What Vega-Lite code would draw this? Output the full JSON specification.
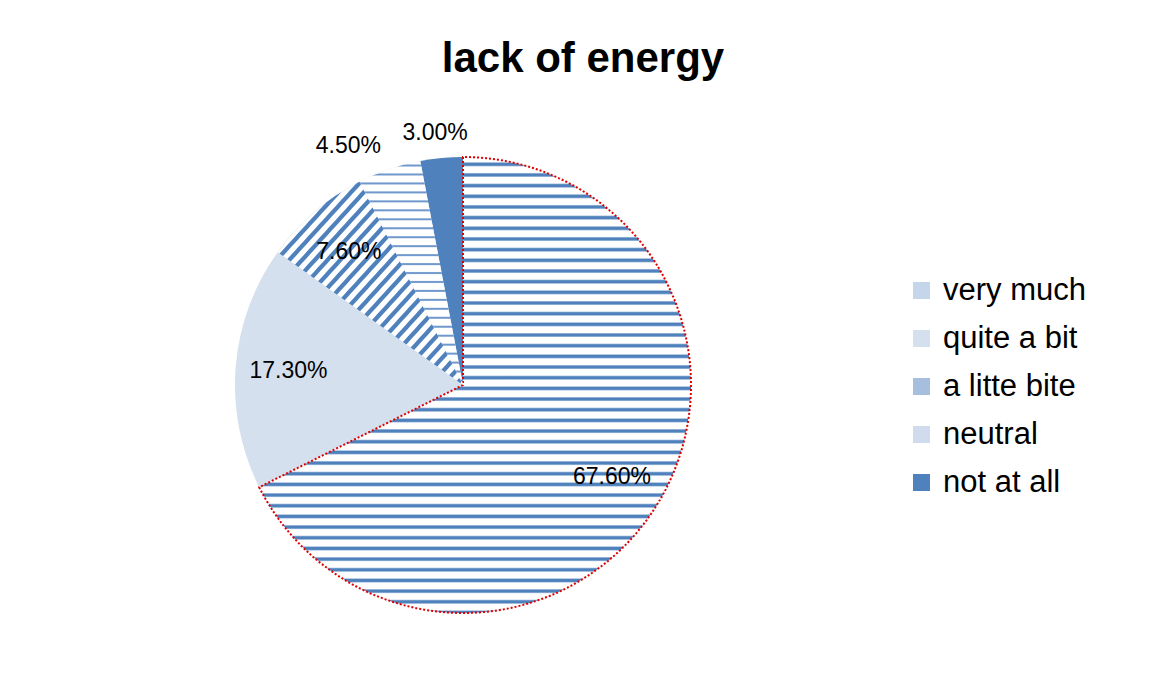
{
  "$schema": "https://vega.github.io/schema/vega-lite/v6.json",
  "width": 916,
  "height": 530,
  "autosize": "none",
  "padding": {"left": 5, "top": 120, "right": 228, "bottom": 24},
  "background": "white",
  "config": {"view": {"stroke": null}, "font": "Liberation Sans"},
  "title": {"text": "lack of energy", "fontSize": 42, "fontWeight": "bold", "font": "Liberation Sans", "color": "#000000", "anchor": "middle", "dx": 120, "offset": 6, "baseline": "alphabetic"},
  "data": {"values": [
    {"category": "very much", "value": 0.676, "order": 1},
    {"category": "quite a bit", "value": 0.173, "order": 2},
    {"category": "a litte bite", "value": 0.076, "order": 3},
    {"category": "neutral", "value": 0.045, "order": 4},
    {"category": "not at all", "value": 0.030, "order": 5}
  ]},
  "encoding": {
    "theta": {"field": "value", "type": "quantitative", "stack": true},
    "order": {"field": "order", "type": "quantitative"}
  },
  "layer": [
    {
      "mark": {"type": "arc", "outerRadius": 228},
      "encoding": {
        "color": {
          "field": "category", "type": "nominal",
          "scale": {"domain": ["very much", "quite a bit", "a litte bite", "neutral", "not at all"], "range": ["#c6d6ea", "#d5e0ef", "#a7bfdf", "#d0dcee", "#4f81bd"]},
          "legend": {"title": null, "orient": "none", "legendX": 901, "legendY": 155, "symbolType": "square", "symbolSize": 289, "labelFontSize": 31, "labelFont": "Liberation Sans", "labelColor": "#000000", "labelOffset": 6, "rowPadding": 16, "symbolStrokeWidth": 0, "labelLimit": 300}
        }
      }
    },
    {
      "mark": {"type": "arc", "outerRadius": 228, "strokeDash": [2, 2], "strokeWidth": 2},
      "encoding": {
        "fill": {
          "condition": [
            {"test": "datum.category === 'very much'", "value": {"gradient": "linear", "x1": 0, "y1": 0, "x2": 0, "y2": 1, "stops": [
              {"offset": 0, "color": "#ffffff"},
              {"offset": 0.0105, "color": "#ffffff"}, {"offset": 0.0138, "color": "#4f81bd"}, {"offset": 0.0182, "color": "#4f81bd"}, {"offset": 0.0215, "color": "#ffffff"},
              {"offset": 0.0339, "color": "#ffffff"}, {"offset": 0.0372, "color": "#4f81bd"}, {"offset": 0.0416, "color": "#4f81bd"}, {"offset": 0.0449, "color": "#ffffff"},
              {"offset": 0.0573, "color": "#ffffff"}, {"offset": 0.0606, "color": "#4f81bd"}, {"offset": 0.0650, "color": "#4f81bd"}, {"offset": 0.0683, "color": "#ffffff"},
              {"offset": 0.0807, "color": "#ffffff"}, {"offset": 0.0840, "color": "#4f81bd"}, {"offset": 0.0884, "color": "#4f81bd"}, {"offset": 0.0917, "color": "#ffffff"},
              {"offset": 0.1041, "color": "#ffffff"}, {"offset": 0.1074, "color": "#4f81bd"}, {"offset": 0.1118, "color": "#4f81bd"}, {"offset": 0.1151, "color": "#ffffff"},
              {"offset": 0.1275, "color": "#ffffff"}, {"offset": 0.1308, "color": "#4f81bd"}, {"offset": 0.1352, "color": "#4f81bd"}, {"offset": 0.1385, "color": "#ffffff"},
              {"offset": 0.1509, "color": "#ffffff"}, {"offset": 0.1542, "color": "#4f81bd"}, {"offset": 0.1586, "color": "#4f81bd"}, {"offset": 0.1619, "color": "#ffffff"},
              {"offset": 0.1743, "color": "#ffffff"}, {"offset": 0.1776, "color": "#4f81bd"}, {"offset": 0.1820, "color": "#4f81bd"}, {"offset": 0.1853, "color": "#ffffff"},
              {"offset": 0.1977, "color": "#ffffff"}, {"offset": 0.2010, "color": "#4f81bd"}, {"offset": 0.2054, "color": "#4f81bd"}, {"offset": 0.2087, "color": "#ffffff"},
              {"offset": 0.2211, "color": "#ffffff"}, {"offset": 0.2244, "color": "#4f81bd"}, {"offset": 0.2288, "color": "#4f81bd"}, {"offset": 0.2321, "color": "#ffffff"},
              {"offset": 0.2445, "color": "#ffffff"}, {"offset": 0.2478, "color": "#4f81bd"}, {"offset": 0.2522, "color": "#4f81bd"}, {"offset": 0.2555, "color": "#ffffff"},
              {"offset": 0.2679, "color": "#ffffff"}, {"offset": 0.2712, "color": "#4f81bd"}, {"offset": 0.2756, "color": "#4f81bd"}, {"offset": 0.2789, "color": "#ffffff"},
              {"offset": 0.2913, "color": "#ffffff"}, {"offset": 0.2946, "color": "#4f81bd"}, {"offset": 0.2990, "color": "#4f81bd"}, {"offset": 0.3023, "color": "#ffffff"},
              {"offset": 0.3147, "color": "#ffffff"}, {"offset": 0.3180, "color": "#4f81bd"}, {"offset": 0.3224, "color": "#4f81bd"}, {"offset": 0.3257, "color": "#ffffff"},
              {"offset": 0.3381, "color": "#ffffff"}, {"offset": 0.3414, "color": "#4f81bd"}, {"offset": 0.3458, "color": "#4f81bd"}, {"offset": 0.3491, "color": "#ffffff"},
              {"offset": 0.3615, "color": "#ffffff"}, {"offset": 0.3648, "color": "#4f81bd"}, {"offset": 0.3692, "color": "#4f81bd"}, {"offset": 0.3725, "color": "#ffffff"},
              {"offset": 0.3849, "color": "#ffffff"}, {"offset": 0.3882, "color": "#4f81bd"}, {"offset": 0.3926, "color": "#4f81bd"}, {"offset": 0.3959, "color": "#ffffff"},
              {"offset": 0.4083, "color": "#ffffff"}, {"offset": 0.4116, "color": "#4f81bd"}, {"offset": 0.4160, "color": "#4f81bd"}, {"offset": 0.4193, "color": "#ffffff"},
              {"offset": 0.4317, "color": "#ffffff"}, {"offset": 0.4350, "color": "#4f81bd"}, {"offset": 0.4394, "color": "#4f81bd"}, {"offset": 0.4427, "color": "#ffffff"},
              {"offset": 0.4551, "color": "#ffffff"}, {"offset": 0.4584, "color": "#4f81bd"}, {"offset": 0.4628, "color": "#4f81bd"}, {"offset": 0.4661, "color": "#ffffff"},
              {"offset": 0.4785, "color": "#ffffff"}, {"offset": 0.4818, "color": "#4f81bd"}, {"offset": 0.4862, "color": "#4f81bd"}, {"offset": 0.4895, "color": "#ffffff"},
              {"offset": 0.5019, "color": "#ffffff"}, {"offset": 0.5052, "color": "#4f81bd"}, {"offset": 0.5096, "color": "#4f81bd"}, {"offset": 0.5129, "color": "#ffffff"},
              {"offset": 0.5253, "color": "#ffffff"}, {"offset": 0.5286, "color": "#4f81bd"}, {"offset": 0.5330, "color": "#4f81bd"}, {"offset": 0.5363, "color": "#ffffff"},
              {"offset": 0.5487, "color": "#ffffff"}, {"offset": 0.5520, "color": "#4f81bd"}, {"offset": 0.5564, "color": "#4f81bd"}, {"offset": 0.5597, "color": "#ffffff"},
              {"offset": 0.5721, "color": "#ffffff"}, {"offset": 0.5754, "color": "#4f81bd"}, {"offset": 0.5798, "color": "#4f81bd"}, {"offset": 0.5831, "color": "#ffffff"},
              {"offset": 0.5955, "color": "#ffffff"}, {"offset": 0.5988, "color": "#4f81bd"}, {"offset": 0.6032, "color": "#4f81bd"}, {"offset": 0.6065, "color": "#ffffff"},
              {"offset": 0.6189, "color": "#ffffff"}, {"offset": 0.6222, "color": "#4f81bd"}, {"offset": 0.6266, "color": "#4f81bd"}, {"offset": 0.6299, "color": "#ffffff"},
              {"offset": 0.6423, "color": "#ffffff"}, {"offset": 0.6456, "color": "#4f81bd"}, {"offset": 0.6500, "color": "#4f81bd"}, {"offset": 0.6533, "color": "#ffffff"},
              {"offset": 0.6657, "color": "#ffffff"}, {"offset": 0.6690, "color": "#4f81bd"}, {"offset": 0.6734, "color": "#4f81bd"}, {"offset": 0.6767, "color": "#ffffff"},
              {"offset": 0.6891, "color": "#ffffff"}, {"offset": 0.6924, "color": "#4f81bd"}, {"offset": 0.6968, "color": "#4f81bd"}, {"offset": 0.7001, "color": "#ffffff"},
              {"offset": 0.7125, "color": "#ffffff"}, {"offset": 0.7158, "color": "#4f81bd"}, {"offset": 0.7202, "color": "#4f81bd"}, {"offset": 0.7235, "color": "#ffffff"},
              {"offset": 0.7359, "color": "#ffffff"}, {"offset": 0.7392, "color": "#4f81bd"}, {"offset": 0.7436, "color": "#4f81bd"}, {"offset": 0.7469, "color": "#ffffff"},
              {"offset": 0.7593, "color": "#ffffff"}, {"offset": 0.7626, "color": "#4f81bd"}, {"offset": 0.7670, "color": "#4f81bd"}, {"offset": 0.7703, "color": "#ffffff"},
              {"offset": 0.7827, "color": "#ffffff"}, {"offset": 0.7860, "color": "#4f81bd"}, {"offset": 0.7904, "color": "#4f81bd"}, {"offset": 0.7937, "color": "#ffffff"},
              {"offset": 0.8061, "color": "#ffffff"}, {"offset": 0.8094, "color": "#4f81bd"}, {"offset": 0.8138, "color": "#4f81bd"}, {"offset": 0.8171, "color": "#ffffff"},
              {"offset": 0.8295, "color": "#ffffff"}, {"offset": 0.8328, "color": "#4f81bd"}, {"offset": 0.8372, "color": "#4f81bd"}, {"offset": 0.8405, "color": "#ffffff"},
              {"offset": 0.8529, "color": "#ffffff"}, {"offset": 0.8562, "color": "#4f81bd"}, {"offset": 0.8606, "color": "#4f81bd"}, {"offset": 0.8639, "color": "#ffffff"},
              {"offset": 0.8763, "color": "#ffffff"}, {"offset": 0.8796, "color": "#4f81bd"}, {"offset": 0.8840, "color": "#4f81bd"}, {"offset": 0.8873, "color": "#ffffff"},
              {"offset": 0.8997, "color": "#ffffff"}, {"offset": 0.9030, "color": "#4f81bd"}, {"offset": 0.9074, "color": "#4f81bd"}, {"offset": 0.9107, "color": "#ffffff"},
              {"offset": 0.9231, "color": "#ffffff"}, {"offset": 0.9264, "color": "#4f81bd"}, {"offset": 0.9308, "color": "#4f81bd"}, {"offset": 0.9341, "color": "#ffffff"},
              {"offset": 0.9465, "color": "#ffffff"}, {"offset": 0.9498, "color": "#4f81bd"}, {"offset": 0.9542, "color": "#4f81bd"}, {"offset": 0.9575, "color": "#ffffff"},
              {"offset": 0.9699, "color": "#ffffff"}, {"offset": 0.9732, "color": "#4f81bd"}, {"offset": 0.9776, "color": "#4f81bd"}, {"offset": 0.9809, "color": "#ffffff"},
              {"offset": 0.9933, "color": "#ffffff"}, {"offset": 0.9966, "color": "#4f81bd"}, {"offset": 1, "color": "#4f81bd"}
            ]}},
            {"test": "datum.category === 'a litte bite'", "value": {"gradient": "linear", "x1": 0, "y1": 0, "x2": 1, "y2": 1, "stops": [
              {"offset": 0, "color": "#ffffff"},
              {"offset": 0.0077, "color": "#ffffff"}, {"offset": 0.0112, "color": "#4f81bd"}, {"offset": 0.0232, "color": "#4f81bd"}, {"offset": 0.0267, "color": "#ffffff"},
              {"offset": 0.0421, "color": "#ffffff"}, {"offset": 0.0456, "color": "#4f81bd"}, {"offset": 0.0576, "color": "#4f81bd"}, {"offset": 0.0611, "color": "#ffffff"},
              {"offset": 0.0765, "color": "#ffffff"}, {"offset": 0.0800, "color": "#4f81bd"}, {"offset": 0.0920, "color": "#4f81bd"}, {"offset": 0.0955, "color": "#ffffff"},
              {"offset": 0.1109, "color": "#ffffff"}, {"offset": 0.1144, "color": "#4f81bd"}, {"offset": 0.1264, "color": "#4f81bd"}, {"offset": 0.1299, "color": "#ffffff"},
              {"offset": 0.1453, "color": "#ffffff"}, {"offset": 0.1488, "color": "#4f81bd"}, {"offset": 0.1608, "color": "#4f81bd"}, {"offset": 0.1643, "color": "#ffffff"},
              {"offset": 0.1797, "color": "#ffffff"}, {"offset": 0.1832, "color": "#4f81bd"}, {"offset": 0.1952, "color": "#4f81bd"}, {"offset": 0.1987, "color": "#ffffff"},
              {"offset": 0.2141, "color": "#ffffff"}, {"offset": 0.2176, "color": "#4f81bd"}, {"offset": 0.2296, "color": "#4f81bd"}, {"offset": 0.2331, "color": "#ffffff"},
              {"offset": 0.2485, "color": "#ffffff"}, {"offset": 0.2520, "color": "#4f81bd"}, {"offset": 0.2640, "color": "#4f81bd"}, {"offset": 0.2675, "color": "#ffffff"},
              {"offset": 0.2829, "color": "#ffffff"}, {"offset": 0.2864, "color": "#4f81bd"}, {"offset": 0.2984, "color": "#4f81bd"}, {"offset": 0.3019, "color": "#ffffff"},
              {"offset": 0.3173, "color": "#ffffff"}, {"offset": 0.3208, "color": "#4f81bd"}, {"offset": 0.3328, "color": "#4f81bd"}, {"offset": 0.3363, "color": "#ffffff"},
              {"offset": 0.3517, "color": "#ffffff"}, {"offset": 0.3552, "color": "#4f81bd"}, {"offset": 0.3672, "color": "#4f81bd"}, {"offset": 0.3707, "color": "#ffffff"},
              {"offset": 0.3861, "color": "#ffffff"}, {"offset": 0.3896, "color": "#4f81bd"}, {"offset": 0.4016, "color": "#4f81bd"}, {"offset": 0.4051, "color": "#ffffff"},
              {"offset": 0.4205, "color": "#ffffff"}, {"offset": 0.4240, "color": "#4f81bd"}, {"offset": 0.4360, "color": "#4f81bd"}, {"offset": 0.4395, "color": "#ffffff"},
              {"offset": 0.4549, "color": "#ffffff"}, {"offset": 0.4584, "color": "#4f81bd"}, {"offset": 0.4704, "color": "#4f81bd"}, {"offset": 0.4739, "color": "#ffffff"},
              {"offset": 0.4893, "color": "#ffffff"}, {"offset": 0.4928, "color": "#4f81bd"}, {"offset": 0.5048, "color": "#4f81bd"}, {"offset": 0.5083, "color": "#ffffff"},
              {"offset": 0.5237, "color": "#ffffff"}, {"offset": 0.5272, "color": "#4f81bd"}, {"offset": 0.5392, "color": "#4f81bd"}, {"offset": 0.5427, "color": "#ffffff"},
              {"offset": 0.5581, "color": "#ffffff"}, {"offset": 0.5616, "color": "#4f81bd"}, {"offset": 0.5736, "color": "#4f81bd"}, {"offset": 0.5771, "color": "#ffffff"},
              {"offset": 0.5925, "color": "#ffffff"}, {"offset": 0.5960, "color": "#4f81bd"}, {"offset": 0.6080, "color": "#4f81bd"}, {"offset": 0.6115, "color": "#ffffff"},
              {"offset": 0.6269, "color": "#ffffff"}, {"offset": 0.6304, "color": "#4f81bd"}, {"offset": 0.6424, "color": "#4f81bd"}, {"offset": 0.6459, "color": "#ffffff"},
              {"offset": 0.6613, "color": "#ffffff"}, {"offset": 0.6648, "color": "#4f81bd"}, {"offset": 0.6768, "color": "#4f81bd"}, {"offset": 0.6803, "color": "#ffffff"},
              {"offset": 0.6957, "color": "#ffffff"}, {"offset": 0.6992, "color": "#4f81bd"}, {"offset": 0.7112, "color": "#4f81bd"}, {"offset": 0.7147, "color": "#ffffff"},
              {"offset": 0.7301, "color": "#ffffff"}, {"offset": 0.7336, "color": "#4f81bd"}, {"offset": 0.7456, "color": "#4f81bd"}, {"offset": 0.7491, "color": "#ffffff"},
              {"offset": 0.7645, "color": "#ffffff"}, {"offset": 0.7680, "color": "#4f81bd"}, {"offset": 0.7800, "color": "#4f81bd"}, {"offset": 0.7835, "color": "#ffffff"},
              {"offset": 0.7989, "color": "#ffffff"}, {"offset": 0.8024, "color": "#4f81bd"}, {"offset": 0.8144, "color": "#4f81bd"}, {"offset": 0.8179, "color": "#ffffff"},
              {"offset": 0.8333, "color": "#ffffff"}, {"offset": 0.8368, "color": "#4f81bd"}, {"offset": 0.8488, "color": "#4f81bd"}, {"offset": 0.8523, "color": "#ffffff"},
              {"offset": 0.8677, "color": "#ffffff"}, {"offset": 0.8712, "color": "#4f81bd"}, {"offset": 0.8832, "color": "#4f81bd"}, {"offset": 0.8867, "color": "#ffffff"},
              {"offset": 0.9021, "color": "#ffffff"}, {"offset": 0.9056, "color": "#4f81bd"}, {"offset": 0.9176, "color": "#4f81bd"}, {"offset": 0.9211, "color": "#ffffff"},
              {"offset": 0.9365, "color": "#ffffff"}, {"offset": 0.9400, "color": "#4f81bd"}, {"offset": 0.9520, "color": "#4f81bd"}, {"offset": 0.9555, "color": "#ffffff"},
              {"offset": 0.9709, "color": "#ffffff"}, {"offset": 0.9744, "color": "#4f81bd"}, {"offset": 0.9864, "color": "#4f81bd"}, {"offset": 0.9899, "color": "#ffffff"},
              {"offset": 1, "color": "#ffffff"}
            ]}},
            {"test": "datum.category === 'neutral'", "value": {"gradient": "linear", "x1": 0, "y1": 0, "x2": 0, "y2": 1, "stops": [
              {"offset": 0, "color": "#ffffff"},
              {"offset": 0.013, "color": "#ffffff"}, {"offset": 0.018, "color": "#6f98cc"}, {"offset": 0.022, "color": "#6f98cc"}, {"offset": 0.027, "color": "#ffffff"},
              {"offset": 0.053, "color": "#ffffff"}, {"offset": 0.058, "color": "#6f98cc"}, {"offset": 0.062, "color": "#6f98cc"}, {"offset": 0.067, "color": "#ffffff"},
              {"offset": 0.093, "color": "#ffffff"}, {"offset": 0.098, "color": "#6f98cc"}, {"offset": 0.102, "color": "#6f98cc"}, {"offset": 0.107, "color": "#ffffff"},
              {"offset": 0.133, "color": "#ffffff"}, {"offset": 0.138, "color": "#6f98cc"}, {"offset": 0.142, "color": "#6f98cc"}, {"offset": 0.147, "color": "#ffffff"},
              {"offset": 0.173, "color": "#ffffff"}, {"offset": 0.178, "color": "#6f98cc"}, {"offset": 0.182, "color": "#6f98cc"}, {"offset": 0.187, "color": "#ffffff"},
              {"offset": 0.213, "color": "#ffffff"}, {"offset": 0.218, "color": "#6f98cc"}, {"offset": 0.222, "color": "#6f98cc"}, {"offset": 0.227, "color": "#ffffff"},
              {"offset": 0.253, "color": "#ffffff"}, {"offset": 0.258, "color": "#6f98cc"}, {"offset": 0.262, "color": "#6f98cc"}, {"offset": 0.267, "color": "#ffffff"},
              {"offset": 0.293, "color": "#ffffff"}, {"offset": 0.298, "color": "#6f98cc"}, {"offset": 0.302, "color": "#6f98cc"}, {"offset": 0.307, "color": "#ffffff"},
              {"offset": 0.333, "color": "#ffffff"}, {"offset": 0.338, "color": "#6f98cc"}, {"offset": 0.342, "color": "#6f98cc"}, {"offset": 0.347, "color": "#ffffff"},
              {"offset": 0.373, "color": "#ffffff"}, {"offset": 0.378, "color": "#6f98cc"}, {"offset": 0.382, "color": "#6f98cc"}, {"offset": 0.387, "color": "#ffffff"},
              {"offset": 0.413, "color": "#ffffff"}, {"offset": 0.418, "color": "#6f98cc"}, {"offset": 0.422, "color": "#6f98cc"}, {"offset": 0.427, "color": "#ffffff"},
              {"offset": 0.453, "color": "#ffffff"}, {"offset": 0.458, "color": "#6f98cc"}, {"offset": 0.462, "color": "#6f98cc"}, {"offset": 0.467, "color": "#ffffff"},
              {"offset": 0.493, "color": "#ffffff"}, {"offset": 0.498, "color": "#6f98cc"}, {"offset": 0.502, "color": "#6f98cc"}, {"offset": 0.507, "color": "#ffffff"},
              {"offset": 0.533, "color": "#ffffff"}, {"offset": 0.538, "color": "#6f98cc"}, {"offset": 0.542, "color": "#6f98cc"}, {"offset": 0.547, "color": "#ffffff"},
              {"offset": 0.573, "color": "#ffffff"}, {"offset": 0.578, "color": "#6f98cc"}, {"offset": 0.582, "color": "#6f98cc"}, {"offset": 0.587, "color": "#ffffff"},
              {"offset": 0.613, "color": "#ffffff"}, {"offset": 0.618, "color": "#6f98cc"}, {"offset": 0.622, "color": "#6f98cc"}, {"offset": 0.627, "color": "#ffffff"},
              {"offset": 0.653, "color": "#ffffff"}, {"offset": 0.658, "color": "#6f98cc"}, {"offset": 0.662, "color": "#6f98cc"}, {"offset": 0.667, "color": "#ffffff"},
              {"offset": 0.693, "color": "#ffffff"}, {"offset": 0.698, "color": "#6f98cc"}, {"offset": 0.702, "color": "#6f98cc"}, {"offset": 0.707, "color": "#ffffff"},
              {"offset": 0.733, "color": "#ffffff"}, {"offset": 0.738, "color": "#6f98cc"}, {"offset": 0.742, "color": "#6f98cc"}, {"offset": 0.747, "color": "#ffffff"},
              {"offset": 0.773, "color": "#ffffff"}, {"offset": 0.778, "color": "#6f98cc"}, {"offset": 0.782, "color": "#6f98cc"}, {"offset": 0.787, "color": "#ffffff"},
              {"offset": 0.813, "color": "#ffffff"}, {"offset": 0.818, "color": "#6f98cc"}, {"offset": 0.822, "color": "#6f98cc"}, {"offset": 0.827, "color": "#ffffff"},
              {"offset": 0.853, "color": "#ffffff"}, {"offset": 0.858, "color": "#6f98cc"}, {"offset": 0.862, "color": "#6f98cc"}, {"offset": 0.867, "color": "#ffffff"},
              {"offset": 0.893, "color": "#ffffff"}, {"offset": 0.898, "color": "#6f98cc"}, {"offset": 0.902, "color": "#6f98cc"}, {"offset": 0.907, "color": "#ffffff"},
              {"offset": 0.933, "color": "#ffffff"}, {"offset": 0.938, "color": "#6f98cc"}, {"offset": 0.942, "color": "#6f98cc"}, {"offset": 0.947, "color": "#ffffff"},
              {"offset": 0.973, "color": "#ffffff"}, {"offset": 0.978, "color": "#6f98cc"}, {"offset": 0.982, "color": "#6f98cc"}, {"offset": 0.987, "color": "#ffffff"},
              {"offset": 1, "color": "#ffffff"}
            ]}}
          ],
          "value": "transparent"
        },
        "stroke": {"condition": {"test": "datum.category === 'very much'", "value": "#e00000"}, "value": "transparent"}
      }
    },
    {
      "mark": {"type": "text", "radius": 175, "fontSize": 23, "font": "Liberation Sans", "color": "#000000", "align": "center", "baseline": "middle"},
      "encoding": {"text": {"condition": {"test": "datum.value >= 0.05", "field": "value", "type": "quantitative", "format": ".2%"}, "value": ""}}
    },
    {
      "mark": {"type": "text", "radius": 253, "fontSize": 23, "font": "Liberation Sans", "color": "#000000", "align": "right", "baseline": "middle"},
      "encoding": {"text": {"condition": {"test": "datum.category === 'neutral'", "field": "value", "type": "quantitative", "format": ".2%"}, "value": ""}}
    },
    {
      "mark": {"type": "text", "radius": 253, "fontSize": 23, "font": "Liberation Sans", "color": "#000000", "align": "center", "baseline": "middle", "dx": -4},
      "encoding": {"text": {"condition": {"test": "datum.category === 'not at all'", "field": "value", "type": "quantitative", "format": ".2%"}, "value": ""}}
    }
  ]
}
